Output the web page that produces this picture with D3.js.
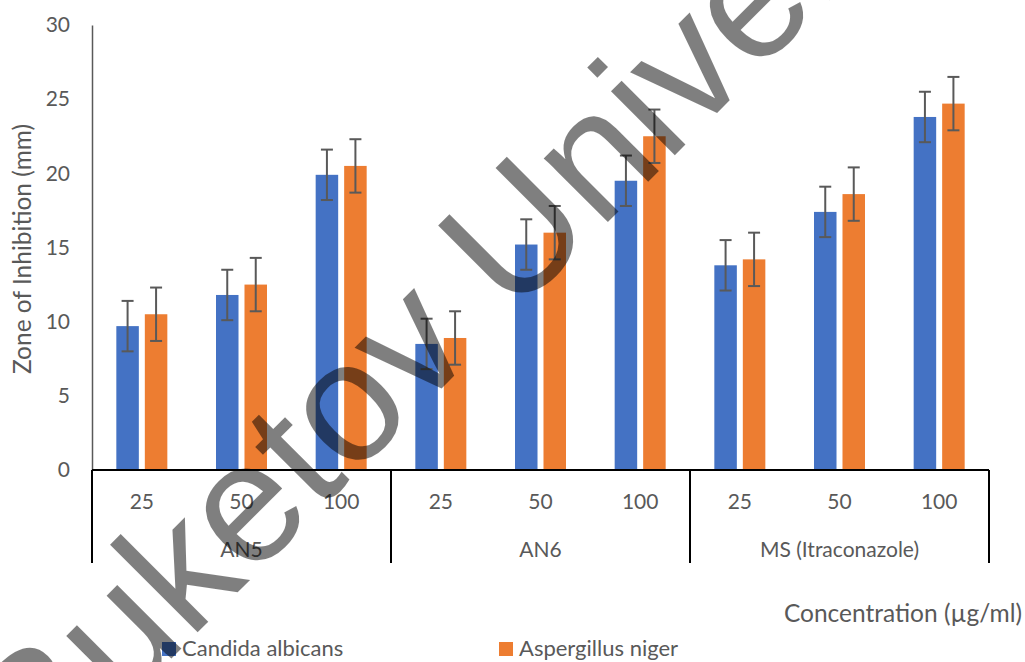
<!DOCTYPE html>
<html>
<head>
<meta charset="utf-8">
<script src="https://cdn.jsdelivr.net/npm/d3@7"></script>
<style>
  html, body { margin: 0; padding: 0; background: #fff; }
  svg { display: block; }
</style>
</head>
<body>
<svg id="chart" width="1025" height="662"></svg>
<script>
// ---- data ----
const groups = ["AN5", "AN6", "MS (Itraconazole)"];
const concentrations = ["25", "50", "100"];
const seriesNames = ["Candida albicans", "Aspergillus niger"];
const candidaValues = [9.7, 11.8, 19.9, 8.5, 15.2, 19.5, 13.8, 17.4, 23.8];
const aspergillusValues = [10.5, 12.5, 20.5, 8.9, 16.0, 22.5, 14.2, 18.6, 24.7];
const candidaErrors = [1.7, 1.7, 1.7, 1.7, 1.7, 1.7, 1.7, 1.7, 1.7];
const aspergillusErrors = [1.8, 1.8, 1.8, 1.8, 1.8, 1.8, 1.8, 1.8, 1.8];
const yTicks = [0, 5, 10, 15, 20, 25, 30];
const yTitle = "Zone of Inhibition (mm)";
const xTitle = "Concentration (µg/ml)";
const watermark = "Buketov University";

const colors = ["#4472C4", "#ED7D31"];

(function () {
// build rows
const cats = [];
groups.forEach(g => concentrations.forEach(c => cats.push({ id: g + "|" + c, group: g, conc: c })));
const rows = cats.map((c, i) => ({
  ...c,
  vals: [
    { s: seriesNames[0], v: candidaValues[i], e: candidaErrors[i] },
    { s: seriesNames[1], v: aspergillusValues[i], e: aspergillusErrors[i] }
  ]
}));

const svg = d3.select("#chart");
const FONT = "Lato, 'Open Sans', sans-serif";
const pLeft = 92, pRight = 989, pTop = 25, pBottom = 470;

const x = d3.scaleBand().domain(cats.map(d => d.id)).range([pLeft, pRight]).paddingInner(0).paddingOuter(0);
const xs = d3.scaleBand().domain(seriesNames).range([-25.5, 25.5]).paddingInner(0.21);
const y = d3.scaleLinear().domain([0, 30]).range([pBottom, pTop]);

// bars
const g = svg.append("g");
const cat = g.selectAll("g.cat").data(rows).join("g")
  .attr("transform", d => `translate(${x(d.id) + x.bandwidth() / 2},0)`);
cat.selectAll("rect").data(d => d.vals).join("rect")
  .attr("x", d => xs(d.s))
  .attr("width", xs.bandwidth())
  .attr("y", d => y(d.v))
  .attr("height", d => y(0) - y(d.v))
  .attr("fill", (d, i) => colors[i]);

// error bars
const eb = cat.selectAll("g.err").data(d => d.vals).join("g")
  .attr("transform", d => `translate(${xs(d.s) + xs.bandwidth() / 2},0)`);
eb.append("line").attr("x1", 0).attr("x2", 0)
  .attr("y1", d => y(d.v + d.e)).attr("y2", d => y(d.v - d.e))
  .attr("stroke", "#595959").attr("stroke-width", 2);
eb.append("line").attr("x1", -6).attr("x2", 6)
  .attr("y1", d => y(d.v + d.e)).attr("y2", d => y(d.v + d.e))
  .attr("stroke", "#595959").attr("stroke-width", 2);
eb.append("line").attr("x1", -6).attr("x2", 6)
  .attr("y1", d => y(d.v - d.e)).attr("y2", d => y(d.v - d.e))
  .attr("stroke", "#595959").attr("stroke-width", 2);

// y axis
const yAxis = d3.axisLeft(y).tickValues(yTicks).tickSize(0).tickPadding(22);
const ya = svg.append("g").attr("transform", `translate(${pLeft},0)`).call(yAxis);
ya.select(".domain").attr("stroke", "#595959").attr("stroke-width", 1.5);
ya.selectAll("text").attr("font-family", FONT).attr("font-size", 21).attr("fill", "#595959");

// x axis (multi-level)
const xa = svg.append("g").attr("transform", `translate(0,${pBottom})`)
  .call(d3.axisBottom(x).tickSize(0).tickPadding(24).tickFormat(id => id.split("|")[1]));
xa.select(".domain").remove();
xa.selectAll("text").attr("font-family", FONT).attr("font-size", 21).attr("fill", "#595959");
svg.append("line").attr("x1", pLeft).attr("x2", pRight).attr("y1", pBottom).attr("y2", pBottom)
  .attr("stroke", "#000").attr("stroke-width", 2);

// group dividers and labels
const bounds = [pLeft].concat(groups.map(gname => x(gname + "|" + concentrations[concentrations.length - 1]) + x.bandwidth()));
svg.selectAll("line.div").data(bounds).join("line")
  .attr("x1", d => d).attr("x2", d => d).attr("y1", pBottom).attr("y2", 563)
  .attr("stroke", "#000").attr("stroke-width", 2);
svg.selectAll("text.grp").data(groups).join("text")
  .attr("x", gname => (x(gname + "|" + concentrations[0]) + x(gname + "|" + concentrations[2]) + x.bandwidth()) / 2)
  .attr("y", 557)
  .attr("text-anchor", "middle")
  .attr("font-family", FONT).attr("font-size", 21).attr("fill", "#595959")
  .text(d => d);

// titles
svg.append("text")
  .attr("transform", `translate(31,249) rotate(-90)`)
  .attr("text-anchor", "middle")
  .attr("font-family", FONT).attr("font-size", 24.5).attr("fill", "#595959")
  .text(yTitle);
svg.append("text")
  .attr("x", 1022).attr("y", 622).attr("text-anchor", "end")
  .attr("font-family", FONT).attr("font-size", 24.5).attr("fill", "#595959")
  .text(xTitle);

// legend
const legX = [162, 499];
const lg = svg.selectAll("g.leg").data(seriesNames).join("g")
  .attr("transform", (d, i) => `translate(${legX[i]},642)`);
lg.append("rect").attr("width", 14).attr("height", 14).attr("fill", (d, i) => colors[i]);
lg.append("text").attr("x", 20).attr("y", 14)
  .attr("font-family", FONT).attr("font-size", 22).attr("fill", "#595959")
  .text(d => d);

// watermark
svg.append("text")
  .attr("transform", "translate(41.6,788.4) rotate(-45)")
  .attr("font-family", "'Liberation Sans', Arial, sans-serif")
  .attr("font-size", 171)
  .attr("fill", "#000").attr("fill-opacity", 0.5)
  .text(watermark);
})();
</script>
</body>
</html>
